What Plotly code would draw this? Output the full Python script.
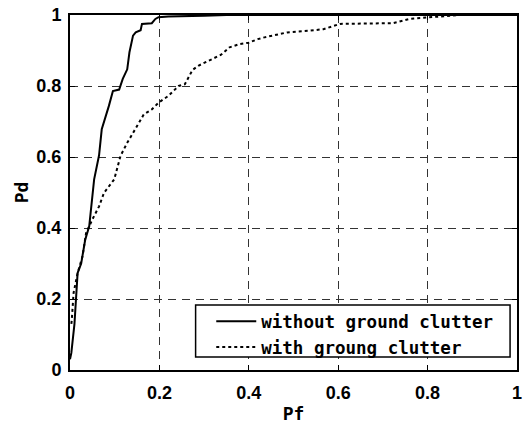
import plotly.graph_objects as go

# Without ground clutter (solid)
pf_without = [0.0, 0.003, 0.01, 0.017, 0.025, 0.034, 0.043, 0.05, 0.054, 0.065, 0.071,
              0.087, 0.096, 0.11, 0.118, 0.128, 0.133, 0.141, 0.147, 0.158, 0.161,
              0.183, 0.191, 0.198, 0.22, 0.3, 0.35, 1.0]
pd_without = [0.03, 0.048, 0.13, 0.273, 0.30, 0.367, 0.405, 0.48, 0.537, 0.605, 0.678,
              0.744, 0.786, 0.79, 0.82, 0.847, 0.895, 0.942, 0.951, 0.957, 0.975,
              0.977, 0.989, 0.994, 0.996, 0.998, 1.0, 1.0]

# With ground clutter (dotted)
pf_with = [0.003, 0.004, 0.008, 0.017, 0.028, 0.036, 0.05, 0.065, 0.076, 0.099, 0.113,
           0.128, 0.15, 0.165, 0.183, 0.198, 0.22, 0.243, 0.257, 0.274, 0.287, 0.309,
           0.338, 0.357, 0.379, 0.4, 0.42, 0.435, 0.486, 0.538, 0.567, 0.604, 0.722,
           0.759, 0.804, 0.87, 0.925]
pd_with = [0.13, 0.141, 0.217, 0.273, 0.32, 0.386, 0.424, 0.461, 0.499, 0.537, 0.603,
           0.64, 0.687, 0.72, 0.734, 0.753, 0.772, 0.8, 0.805, 0.845, 0.857, 0.871,
           0.888, 0.909, 0.918, 0.922, 0.932, 0.937, 0.951, 0.956, 0.96, 0.975, 0.977,
           0.989, 0.994, 1.0, 1.0]

tick_vals = [0, 0.2, 0.4, 0.6, 0.8, 1]
tick_text = ["0", "0.2", "0.4", "0.6", "0.8", "1"]

fig = go.Figure()
fig.add_trace(go.Scatter(x=pf_without, y=pd_without, mode="lines",
                         name="without ground clutter",
                         line=dict(color="black", width=2)))
fig.add_trace(go.Scatter(x=pf_with, y=pd_with, mode="lines",
                         name="with groung clutter",
                         line=dict(color="black", width=2, dash="dot")))

tickfont = dict(family="Liberation Sans, Arial, sans-serif", size=18, color="black", weight="bold")
titlefont = dict(family="DejaVu Sans Mono, monospace", size=18, color="black", weight="bold")

axis_common = dict(
    range=[0, 1], tickvals=tick_vals, ticktext=tick_text,
    showline=True, linecolor="black", linewidth=2, mirror="ticks",
    ticks="inside", ticklen=5, tickwidth=1, tickcolor="black",
    showgrid=True, gridcolor="#333333", gridwidth=1, griddash="8px,6px",
    zeroline=False, tickfont=tickfont, ticklabeloverflow="allow",
)

fig.update_xaxes(**axis_common, title=dict(text="Pf", font=titlefont, standoff=6),
                 ticklabelstandoff=5)
fig.update_yaxes(**axis_common, title=dict(text="Pd", font=titlefont, standoff=3),
                 ticklabelstandoff=3)

# legend frame
fig.add_shape(type="rect", xref="paper", yref="paper",
              x0=0.281, x1=0.9845, y0=0.0366, y1=0.183,
              line=dict(color="black", width=1.5), fillcolor="white", layer="above")

fig.update_layout(
    width=525, height=425,
    margin=dict(l=70, r=3, t=15, b=55),
    plot_bgcolor="white", paper_bgcolor="white",
    showlegend=True,
    legend=dict(x=0.316, y=0.188, xanchor="left", yanchor="top",
                bgcolor="rgba(0,0,0,0)", borderwidth=0,
                font=dict(family="DejaVu Sans Mono, monospace", size=17.5,
                          color="black", weight="bold"),
                tracegroupgap=0, itemwidth=40),
)

fig.write_html("out.html", config={"displayModeBar": False},
               post_script="document.body.style.margin='0';document.body.style.padding='0';")
